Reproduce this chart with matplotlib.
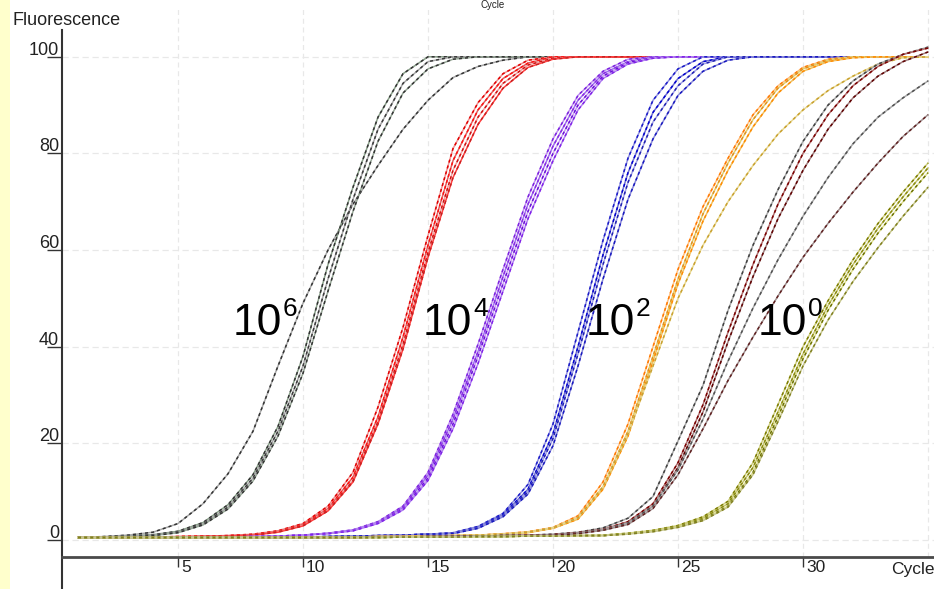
import matplotlib
matplotlib.use('Agg')
import matplotlib.pyplot as plt
from matplotlib.patches import Rectangle
from matplotlib.transforms import offset_copy

plt.rcParams['font.family'] = ['Liberation Sans', 'DejaVu Sans']

cycles = list(range(1, 36))

# 10^6 group (black / grey)
black_curves = [
    [0.5, 0.7, 1.0, 1.6, 3.4, 7.5, 13.7, 22.5, 36, 49, 60, 69.5, 77.5, 85, 91, 95.7, 98, 99.3, 100, 100,
     100, 100, 100, 100, 100, 100, 100, 100, 100, 100, 100, 100, 100, 100, 100],
    [0.5, 0.6, 0.8, 1.1, 1.8, 3.6, 7.3, 13.5, 23.5, 38, 57, 73, 87.5, 96.5, 100, 100, 100, 100, 100, 100,
     100, 100, 100, 100, 100, 100, 100, 100, 100, 100, 100, 100, 100, 100, 100],
    [0.5, 0.6, 0.8, 1.0, 1.6, 3.3, 6.8, 12.8, 22.5, 36, 54, 70.5, 85, 94.5, 99, 100, 100, 100, 100, 100,
     100, 100, 100, 100, 100, 100, 100, 100, 100, 100, 100, 100, 100, 100, 100],
    [0.5, 0.6, 0.7, 0.9, 1.5, 3.1, 6.4, 12.2, 21.5, 34.5, 51.5, 68, 82.5, 92.5, 97.5, 99.5, 100, 100, 100, 100,
     100, 100, 100, 100, 100, 100, 100, 100, 100, 100, 100, 100, 100, 100, 100],
]
red_curves = [
    [0.5, 0.5, 0.5, 0.6, 0.7, 0.8, 0.9, 1.2, 1.9, 3.4, 7, 14, 27.5, 44, 63, 81, 90.5, 96.5, 99.3, 100,
     100, 100, 100, 100, 100, 100, 100, 100, 100, 100, 100, 100, 100, 100, 100],
    [0.5, 0.5, 0.5, 0.6, 0.7, 0.8, 0.9, 1.1, 1.8, 3.2, 6.5, 13, 25.5, 42, 61, 78.5, 89, 95.5, 98.7, 100,
     100, 100, 100, 100, 100, 100, 100, 100, 100, 100, 100, 100, 100, 100, 100],
    [0.5, 0.5, 0.5, 0.6, 0.6, 0.7, 0.8, 1.0, 1.7, 3.0, 6.2, 12.3, 24.5, 40.5, 59.5, 76.5, 87.5, 94.5, 98.3, 99.7,
     100, 100, 100, 100, 100, 100, 100, 100, 100, 100, 100, 100, 100, 100, 100],
    [0.5, 0.5, 0.5, 0.6, 0.6, 0.7, 0.8, 1.0, 1.6, 2.9, 6.0, 12, 24, 39.5, 58.5, 75, 86, 93.5, 97.8, 99.5,
     100, 100, 100, 100, 100, 100, 100, 100, 100, 100, 100, 100, 100, 100, 100],
]
purple_curves = [
    [0.5, 0.5, 0.5, 0.5, 0.5, 0.6, 0.6, 0.7, 0.8, 1.0, 1.4, 2.1, 3.8, 7, 14, 26, 40.5, 56, 71, 83,
     92, 97, 99.5, 100, 100, 100, 100, 100, 100, 100, 100, 100, 100, 100, 100],
    [0.5, 0.5, 0.5, 0.5, 0.5, 0.6, 0.6, 0.7, 0.8, 1.0, 1.4, 2.0, 3.6, 6.7, 13.4, 25, 39, 54.5, 69.5, 81.5,
     91, 96.5, 99, 100, 100, 100, 100, 100, 100, 100, 100, 100, 100, 100, 100],
    [0.5, 0.5, 0.5, 0.5, 0.5, 0.6, 0.6, 0.7, 0.8, 1.0, 1.3, 1.9, 3.5, 6.4, 12.8, 24, 38, 53, 68, 80,
     90, 96, 98.8, 99.8, 100, 100, 100, 100, 100, 100, 100, 100, 100, 100, 100],
    [0.5, 0.5, 0.5, 0.5, 0.5, 0.6, 0.6, 0.7, 0.8, 1.0, 1.3, 1.9, 3.4, 6.2, 12.3, 23, 36.5, 51.5, 66.5, 78.5,
     89, 95.5, 98.5, 99.7, 100, 100, 100, 100, 100, 100, 100, 100, 100, 100, 100],
]
blue_curves = [
    [0.5, 0.5, 0.5, 0.5, 0.5, 0.5, 0.5, 0.5, 0.6, 0.6, 0.7, 0.8, 0.9, 1.0, 1.2, 1.5, 2.8, 5.5, 11.5, 24,
     43, 62, 79, 91, 97.5, 100, 100, 100, 100, 100, 100, 100, 100, 100, 100],
    [0.5, 0.5, 0.5, 0.5, 0.5, 0.5, 0.5, 0.5, 0.6, 0.6, 0.7, 0.8, 0.9, 1.0, 1.2, 1.4, 2.6, 5.2, 10.5, 22,
     40, 59, 76, 88.5, 95.5, 99, 100, 100, 100, 100, 100, 100, 100, 100, 100],
    [0.5, 0.5, 0.5, 0.5, 0.5, 0.5, 0.5, 0.5, 0.6, 0.6, 0.7, 0.8, 0.9, 1.0, 1.2, 1.4, 2.5, 5.0, 10, 21,
     38.5, 57, 74, 86.5, 94, 98.5, 100, 100, 100, 100, 100, 100, 100, 100, 100],
    [0.5, 0.5, 0.5, 0.5, 0.5, 0.5, 0.5, 0.5, 0.6, 0.6, 0.7, 0.8, 0.9, 1.0, 1.2, 1.3, 2.4, 4.8, 9.5, 19.5,
     36, 54, 70.5, 83, 92, 97, 99.3, 100, 100, 100, 100, 100, 100, 100, 100],
]
orange_curves = [
    [0.5, 0.5, 0.5, 0.5, 0.5, 0.5, 0.5, 0.5, 0.5, 0.6, 0.6, 0.6, 0.7, 0.7, 0.8, 0.9, 1.0, 1.3, 1.7, 2.6,
     5, 12, 24, 40, 56, 69, 79, 88, 94, 97.8, 99.5, 100, 100, 100, 100],
    [0.5, 0.5, 0.5, 0.5, 0.5, 0.5, 0.5, 0.5, 0.5, 0.6, 0.6, 0.6, 0.7, 0.7, 0.8, 0.9, 1.0, 1.2, 1.6, 2.5,
     4.6, 11, 22.5, 38, 54, 67.5, 78, 87, 93.5, 97.5, 99.3, 100, 100, 100, 100],
    [0.5, 0.5, 0.5, 0.5, 0.5, 0.5, 0.5, 0.5, 0.5, 0.6, 0.6, 0.6, 0.7, 0.7, 0.8, 0.9, 1.0, 1.2, 1.5, 2.4,
     4.3, 10.5, 21.5, 37, 53, 66, 76.5, 85.5, 92.5, 97, 99, 99.8, 100, 100, 100],
    [0.5, 0.5, 0.5, 0.5, 0.5, 0.5, 0.5, 0.5, 0.5, 0.6, 0.6, 0.6, 0.7, 0.7, 0.8, 0.9, 1.0, 1.2, 1.6, 2.5,
     4.6, 11, 22, 36, 50, 61, 70, 77.5, 84, 89, 93, 96, 98.5, 99.8, 100],
]
brown_curves = [
    [0.5, 0.5, 0.5, 0.5, 0.5, 0.5, 0.5, 0.5, 0.5, 0.5, 0.5, 0.5, 0.6, 0.6, 0.7, 0.7, 0.8, 0.9, 1.0, 1.2,
     1.6, 2.5, 4.5, 9, 20.5, 32, 47.5, 61, 72.5, 82.5, 90, 95, 98.5, 100.5, 102],
    [0.5, 0.5, 0.5, 0.5, 0.5, 0.5, 0.5, 0.5, 0.5, 0.5, 0.5, 0.5, 0.6, 0.6, 0.7, 0.7, 0.8, 0.9, 1.0, 1.1,
     1.5, 2.2, 3.8, 7.5, 16, 28, 43, 57, 69.5, 80, 88, 94, 98, 100.5, 101.8],
    [0.5, 0.5, 0.5, 0.5, 0.5, 0.5, 0.5, 0.5, 0.5, 0.5, 0.5, 0.5, 0.6, 0.6, 0.7, 0.7, 0.8, 0.9, 0.9, 1.0,
     1.4, 2.1, 3.5, 7, 15, 26.5, 41, 54.5, 66.5, 76.5, 85, 91.5, 96, 99, 101],
    [0.5, 0.5, 0.5, 0.5, 0.5, 0.5, 0.5, 0.5, 0.5, 0.5, 0.5, 0.5, 0.6, 0.6, 0.7, 0.7, 0.8, 0.9, 0.9, 1.0,
     1.4, 2.1, 3.5, 7, 14.5, 25, 37, 48, 58, 67, 75, 82, 87.5, 91.5, 95],
    [0.5, 0.5, 0.5, 0.5, 0.5, 0.5, 0.5, 0.5, 0.5, 0.5, 0.5, 0.5, 0.6, 0.6, 0.7, 0.7, 0.8, 0.9, 0.9, 1.0,
     1.3, 2.0, 3.2, 6.5, 13.5, 23, 33, 42, 50.5, 58.5, 65.5, 72, 78, 83.5, 88],
]
olive_curves = [
    [0.5, 0.5, 0.5, 0.5, 0.5, 0.5, 0.5, 0.5, 0.5, 0.5, 0.5, 0.5, 0.5, 0.6, 0.6, 0.6, 0.7, 0.7, 0.8, 0.8,
     0.9, 1.0, 1.4, 2.0, 3.0, 4.8, 8, 16, 28, 40, 49.5, 58, 65.5, 72, 78],
    [0.5, 0.5, 0.5, 0.5, 0.5, 0.5, 0.5, 0.5, 0.5, 0.5, 0.5, 0.5, 0.5, 0.6, 0.6, 0.6, 0.7, 0.7, 0.8, 0.8,
     0.9, 0.9, 1.3, 1.9, 2.8, 4.5, 7.5, 15, 26.5, 38.5, 48.5, 57, 64.5, 71, 77],
    [0.5, 0.5, 0.5, 0.5, 0.5, 0.5, 0.5, 0.5, 0.5, 0.5, 0.5, 0.5, 0.5, 0.6, 0.6, 0.6, 0.7, 0.7, 0.8, 0.8,
     0.9, 0.9, 1.3, 1.8, 2.7, 4.2, 7, 14, 25.5, 37.5, 47.5, 56, 63.5, 70, 76],
    [0.5, 0.5, 0.5, 0.5, 0.5, 0.5, 0.5, 0.5, 0.5, 0.5, 0.5, 0.5, 0.5, 0.6, 0.6, 0.6, 0.7, 0.7, 0.8, 0.8,
     0.9, 0.9, 1.2, 1.7, 2.6, 4.0, 6.8, 13.5, 24.5, 36, 45.5, 53.5, 60.5, 67, 73],
]

x_ticks = [5, 10, 15, 20, 25, 30]
y_ticks = [0, 20, 40, 60, 80, 100]

# label text, exponent, x of "10", x of exponent
dilution_labels = [('10', '6', 7.2, 9.2), ('10', '4', 14.8, 16.8),
                   ('10', '2', 21.32, 23.32), ('10', '0', 28.2, 30.2)]

# (solid colour, dash colour) for each curve of a group
groups = [
    (black_curves, [('#a8a8a8', '#333333'), ('#8aa08a', '#333333'), ('#a8a8a8', '#3a3a3a'), ('#98a898', '#333333')]),
    (red_curves, [('#f29090', '#e00000'), ('#e06060', '#ff1010'), ('#f0a0a0', '#d01010'), ('#ff4040', '#c82020')]),
    (purple_curves, [('#c090f0', '#7a1fe0'), ('#a070f0', '#8a2be2'), ('#c8a0f0', '#6a10d8'), ('#b080f0', '#8020e8')]),
    (blue_curves, [('#9090e0', '#1a1ac8'), ('#7070d0', '#0000d0'), ('#a0a0e8', '#2020b0'), ('#8888d8', '#1818c0')]),
    (orange_curves, [('#ffc080', '#ff7800'), ('#e0d070', '#e09020'), ('#f0c060', '#ff8a00'), ('#e8d890', '#c8a030')]),
    (brown_curves, [('#a8a8a8', '#404040'), ('#b07070', '#7a0000'), ('#a08080', '#600000'), ('#a8a8a8', '#505050'), ('#a09090', '#602020')]),
    (olive_curves, [('#d0d080', '#7a7a00'), ('#c8c870', '#8a8a10'), ('#e0e090', '#6a7000'), ('#c8c890', '#808020')]),
]

fig = plt.figure(figsize=(9.34, 5.89), dpi=100)
fig.patches.append(Rectangle((0, 0), 10 / 934, 1, transform=fig.transFigure,
                             facecolor='#ffffcc', edgecolor='none', zorder=-1))
ax = fig.add_axes([62 / 934, 0, 872 / 934, 581 / 589])
ax.set_xlim(0.36, 35.24)
ax.set_ylim(-10.15, 110.1)

# grid
ax.hlines(y_ticks, 0.36, 35.24, colors='#e8e8e8', linestyles=(0, (5, 3)), lw=0.9, zorder=0)
ax.vlines(x_ticks + [35], -3.5, 110.1, colors='#e8e8e8', linestyles=(0, (4, 3)), lw=0.9, zorder=0)

for curves, colors in groups:
    for vals, (c_solid, c_dash) in zip(curves, colors):
        ax.plot(cycles, vals, color=c_solid, lw=1.1, zorder=2)
        ax.plot(cycles, vals, color=c_dash, lw=1.1, dashes=(2, 2), zorder=2)

for base, exp, xb, xe in dilution_labels:
    ax.text(xb, 42.4, base, fontsize=32, ha='left', va='baseline', zorder=5)
    ax.text(xe, 46.4, exp, fontsize=19, ha='left', va='baseline', zorder=5)

# axes
for s in ['top', 'right']:
    ax.spines[s].set_visible(False)
ax.spines['bottom'].set_position(('data', -3.5))
ax.spines['bottom'].set_linewidth(2)
ax.spines['bottom'].set_color('#4a4a4a')
ax.spines['left'].set_bounds(-10.15, 105.6)
ax.spines['left'].set_linewidth(1.5)
ax.spines['left'].set_color('#333333')

ax.set_xticks(x_ticks)
ax.set_yticks(y_ticks)
ax.tick_params(axis='x', length=7.5, width=1, color='#333333', direction='out', labelbottom=False)
ax.tick_params(axis='y', length=10.8, width=1, color='#333333', direction='out', labelleft=False)

y_tr = offset_copy(ax.get_yaxis_transform(), fig=fig, x=-3, y=2, units='dots')
for v in y_ticks:
    ax.text(0, v, str(v), transform=y_tr, ha='right', va='baseline', fontsize=13, color='#222222')
x_tr = offset_copy(ax.transData, fig=fig, x=3, y=-3, units='dots')
for v in x_ticks:
    ax.text(v, -3.5, str(v), transform=x_tr, ha='left', va='top', fontsize=12.5, color='#222222')

fig.text(13 / 934, 1 - 12 / 589, 'Fluorescence', ha='left', va='top', fontsize=13, color='#222222')
fig.text(891 / 934, 1 - 562 / 589, 'Cycle', ha='left', va='top', fontsize=12.5, color='#222222')
fig.text(493 / 934, 1.0, 'Cycle', ha='center', va='top', fontsize=7, color='#222222')

fig.savefig('out.png', dpi=100)
